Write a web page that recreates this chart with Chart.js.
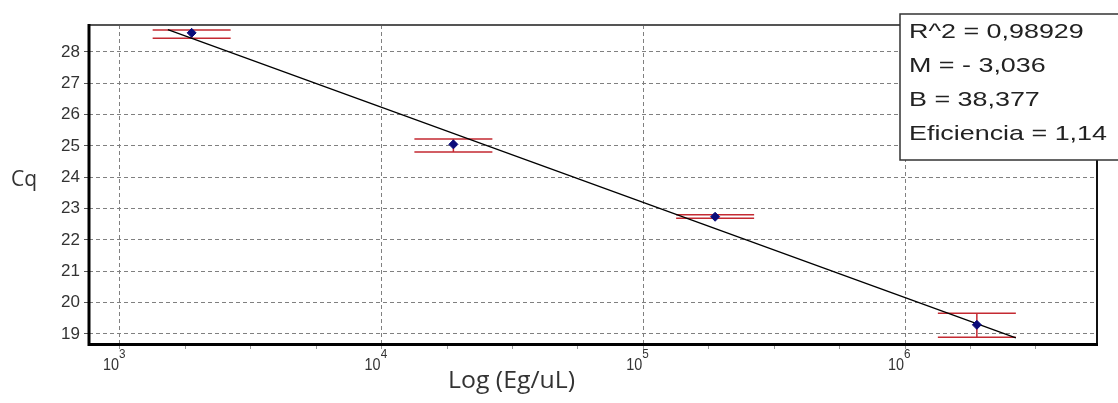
<!DOCTYPE html>
<html>
<head>
<meta charset="utf-8">
<script src="https://cdn.jsdelivr.net/npm/chart.js@4.4.1/dist/chart.umd.min.js"></script>
<style>
  html, body { margin: 0; padding: 0; background: #fff; }
  #wrap { width: 1118px; height: 403px; }
</style>
</head>
<body>
<div id="wrap"><canvas id="curva"></canvas></div>
<script>
// estándares: concentración (Eg/uL) y Cq medio, con su rango
const concentracion = [1880, 18800, 188000, 1880000];
const cqMedio = [28.61, 25.05, 22.74, 19.29];
const cqAlto = [28.70, 25.22, 22.80, 19.66];
const cqBajo = [28.44, 24.81, 22.69, 18.89];

// recta de regresión Cq = M * log10(x) + B
const R2 = 0.98929;
const M = -3.036;
const B = 38.377;
const eficiencia = 1.14;
const tramoRecta = [1525, 2650000];

// décadas rotuladas en el eje x
const exponentes = [3, 4, 5, 6];

const coma = s => String(s).replace('.', ',');
const lineasCaja = [
  'R^2 = ' + coma(R2.toFixed(5)),
  'M = ' + (M < 0 ? '- ' : '') + coma(Math.abs(M).toFixed(3)),
  'B = ' + coma(B.toFixed(3)),
  'Eficiencia = ' + coma(eficiencia.toFixed(2))
];

const puntos = concentracion.map((c, i) => ({ x: c, y: cqMedio[i] }));
const recta = tramoRecta.map(c => ({ x: c, y: M * Math.log10(c) + B }));

const esDecada = v => Math.abs(Math.log10(v) - Math.round(Math.log10(v))) < 1e-6;

function textoEscalado(ctx, s, x, yb, esc) {
  ctx.save();
  ctx.translate(x, yb);
  ctx.scale(esc, 1);
  ctx.fillText(s, 0, 0);
  ctx.restore();
}

const barrasError = {
  id: 'barrasError',
  beforeDatasetsDraw(chart) {
    const { ctx, scales: { x, y } } = chart;
    ctx.save();
    ctx.strokeStyle = '#c42a32';
    ctx.lineWidth = 1.5;
    concentracion.forEach((c, i) => {
      const px = x.getPixelForValue(c);
      const ya = y.getPixelForValue(cqAlto[i]);
      const yb = y.getPixelForValue(cqBajo[i]);
      ctx.beginPath();
      ctx.moveTo(px - 39, ya); ctx.lineTo(px + 39, ya);
      ctx.moveTo(px - 39, yb); ctx.lineTo(px + 39, yb);
      ctx.moveTo(px, ya); ctx.lineTo(px, yb);
      ctx.stroke();
    });
    ctx.restore();
  }
};

const marco = {
  id: 'marco',
  afterDraw(chart) {
    const { ctx, chartArea: a, scales: { x } } = chart;
    ctx.save();
    // bordes del área
    ctx.strokeStyle = '#555';
    ctx.lineWidth = 2;
    ctx.beginPath(); ctx.moveTo(a.left, a.top); ctx.lineTo(a.right, a.top); ctx.stroke();
    ctx.strokeStyle = '#111';
    ctx.beginPath(); ctx.moveTo(a.right, a.top); ctx.lineTo(a.right, a.bottom); ctx.stroke();
    ctx.strokeStyle = '#000';
    ctx.lineWidth = 3;
    ctx.beginPath(); ctx.moveTo(a.left, a.top - 1); ctx.lineTo(a.left, a.bottom + 1.5); ctx.lineTo(a.right + 1, a.bottom + 1.5); ctx.stroke();

    // rótulos 10^n
    ctx.fillStyle = '#333';
    exponentes.forEach(e => {
      const gx = x.getPixelForValue(Math.pow(10, e));
      ctx.font = '16px "Liberation Sans", Arial, sans-serif';
      ctx.textAlign = 'right';
      textoEscalado(ctx, '10', gx - 1, 370, 0.9);
      ctx.font = '13px "Liberation Sans", Arial, sans-serif';
      ctx.textAlign = 'left';
      textoEscalado(ctx, String(e), gx - 1, 358, 0.9);
    });

    // títulos de ejes
    ctx.textAlign = 'left';
    ctx.font = '23px "Open Sans", sans-serif';
    textoEscalado(ctx, 'Log (Eg/uL)', 448, 388, 1.08);
    ctx.font = '21px "Open Sans", sans-serif';
    ctx.fillText('Cq', 11, 186);

    // caja de estadísticos
    ctx.fillStyle = '#fff';
    ctx.fillRect(900, 14, 240, 146);
    ctx.strokeStyle = '#333';
    ctx.lineWidth = 1.5;
    ctx.strokeRect(900, 14, 240, 146);
    ctx.fillStyle = '#222';
    ctx.font = '21px "Liberation Sans", Arial, sans-serif';
    lineasCaja.forEach((s, i) => textoEscalado(ctx, s, 909, 38 + 34 * i, 1.28));
    ctx.restore();
  }
};

new Chart(document.getElementById('curva'), {
  type: 'scatter',
  data: {
    datasets: [
      {
        data: puntos,
        pointStyle: 'rectRot',
        pointRadius: 4.5,
        backgroundColor: '#0b0b7a',
        borderColor: '#0b0b7a',
        borderWidth: 1
      },
      {
        data: recta,
        showLine: true,
        pointRadius: 0,
        borderColor: '#000',
        borderWidth: 1.3
      }
    ]
  },
  options: {
    responsive: true,
    maintainAspectRatio: false,
    animation: false,
    layout: { padding: { top: 25, right: 21, left: 0, bottom: 0 } },
    plugins: { legend: { display: false }, tooltip: { enabled: false } },
    scales: {
      x: {
        type: 'logarithmic',
        min: 762,
        max: 5410000,
        afterFit: s => { s.height = 60; },
        afterBuildTicks: s => {
          const t = [];
          for (let k = 11; k <= 27; k++) {
            const v = Math.pow(10, k / 4);
            if (v >= s.min && v <= s.max) t.push({ value: v });
          }
          s.ticks = t;
        },
        ticks: { display: false },
        border: { display: false, dash: [4, 3] },
        grid: {
          color: c => (c.tick && esDecada(c.tick.value)) ? '#808080' : 'rgba(0,0,0,0)',
          lineWidth: 1,
          tickLength: 6,
          tickColor: '#999'
        }
      },
      y: {
        min: 18.71,
        max: 28.86,
        afterFit: s => { s.width = 89; },
        ticks: {
          stepSize: 1,
          includeBounds: false,
          padding: 4,
          color: '#333',
          font: { family: '"Liberation Sans", Arial, sans-serif', size: 17 }
        },
        border: { display: false, dash: [4, 3] },
        grid: {
          color: '#808080',
          lineWidth: 1,
          tickLength: 5,
          tickColor: '#555'
        }
      }
    }
  },
  plugins: [barrasError, marco]
});
</script>
</body>
</html>
